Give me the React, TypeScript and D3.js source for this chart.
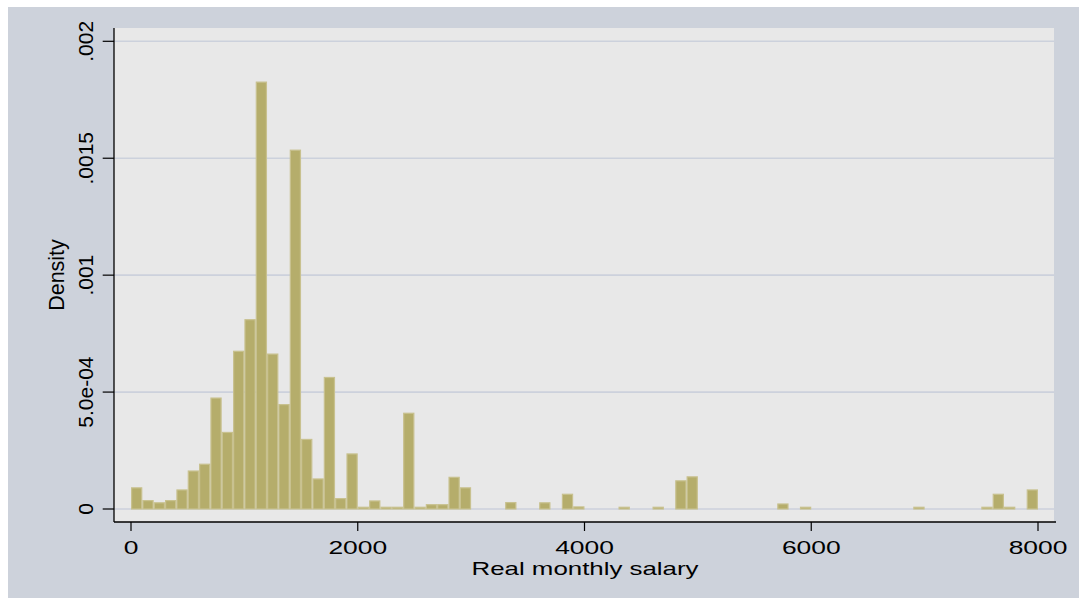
import React from "react";
import * as d3 from "d3";

// Histogram: bins of width 100 from 0 to 8000 (density per bin)
const binStart: number[] = d3.range(0, 8000, 100);
const densities: number[] = [
  0.000093, 0.0000385, 0.000029, 0.0000385, 0.000084, 0.000165, 0.000194, 0.000477, 0.00033, 0.000677,
  0.000812, 0.001828, 0.000665, 0.000449, 0.001537, 0.0003, 0.000131, 0.000565, 0.000047, 0.000238,
  0.00001, 0.000037, 0.00001, 0.00001, 0.000412, 0.00001, 0.000021, 0.000021, 0.000138, 0.000093,
  0, 0, 0, 0.00003, 0, 0, 0.000029, 0, 0.0000655, 0.0000115,
  0, 0, 0, 0.00001, 0, 0, 0.00001, 0, 0.000123, 0.00014,
  0, 0, 0, 0, 0, 0, 0, 0.000024, 0, 0.00001,
  0, 0, 0, 0, 0, 0, 0, 0, 0, 0.00001,
  0, 0, 0, 0, 0, 0.00001, 0.0000655, 0.00001, 0, 0.000084,
];
const binWidth = 100;

const xTicks: number[] = [0, 2000, 4000, 6000, 8000];
const yTicks: number[] = [0, 0.0005, 0.001, 0.0015, 0.002];
const yTickLabels: string[] = ["0", "5.0e-04", ".001", ".0015", ".002"];
const xTitle = "Real monthly salary";
const yTitle = "Density";

export default function App() {
  const W = 1079;
  const H = 598;
  const plotL = 114;
  const plotR = 1054;
  const plotT = 28;
  const plotB = 522;

  const x = d3.scaleLinear().domain([0, 8000]).range([131, 1038]);
  const y = d3.scaleLinear().domain([0, 0.002]).range([509, 41.3]);

  const font = "'Liberation Sans', Arial, Helvetica, sans-serif";
  const barFill = "#b5ad6b";
  const barStroke = "#c8c18f";
  const sw = 1.2;

  return (
    <svg
      width={W}
      height={H}
      style={{ position: "absolute", left: 0, top: 0, display: "block" }}
    >
      <rect x={0} y={0} width={W} height={H} fill="#ffffff" />
      <rect x={8} y={7} width={W - 8} height={H - 7} fill="#cdd2db" />
      <rect x={plotL} y={plotT} width={plotR - plotL} height={plotB - plotT} fill="#e8e8e8" />

      {yTicks.map((t) => (
        <line
          key={"g" + t}
          x1={plotL}
          x2={plotR}
          y1={y(t)}
          y2={y(t)}
          stroke="#ccd1dc"
          strokeWidth={1.6}
        />
      ))}

      {densities.map((d, i) => {
        if (d <= 0) return null;
        const x0 = x(binStart[i]);
        const x1 = x(binStart[i] + binWidth);
        const top = y(d);
        const base = y(0);
        return (
          <rect
            key={"b" + i}
            x={x0 + sw / 2}
            y={top + sw / 2}
            width={Math.max(0, x1 - x0 - sw)}
            height={Math.max(0.1, base - top - sw / 2)}
            fill={barFill}
            stroke={barStroke}
            strokeWidth={sw}
          />
        );
      })}

      {/* axes */}
      <line x1={plotL} x2={plotL} y1={plotT} y2={plotB} stroke="#000" strokeWidth={1.3} />
      <line x1={plotL} x2={1056} y1={plotB} y2={plotB} stroke="#000" strokeWidth={1.3} />

      {yTicks.map((t, i) => (
        <g key={"yt" + t}>
          <line x1={102.7} x2={plotL} y1={y(t)} y2={y(t)} stroke="#000" strokeWidth={1.2} />
          <text
            transform={`translate(93,${y(t)}) rotate(-90)`}
            textAnchor="middle"
            fontFamily={font}
            fontSize={21}
            fill="#000"
          >
            {yTickLabels[i]}
          </text>
        </g>
      ))}

      {xTicks.map((t) => (
        <g key={"xt" + t}>
          <line x1={x(t)} x2={x(t)} y1={plotB} y2={531} stroke="#000" strokeWidth={1.2} />
          <text
            transform={`translate(${x(t)},554.3) scale(1.39,1)`}
            textAnchor="middle"
            fontFamily={font}
            fontSize={19}
            fill="#000"
          >
            {t}
          </text>
        </g>
      ))}

      <text
        transform={`translate(${(plotL + plotR) / 2 + 1},575) scale(1.39,1)`}
        textAnchor="middle"
        fontFamily={font}
        fontSize={18.6}
        fill="#000"
      >
        {xTitle}
      </text>

      <text
        transform={`translate(64,${(plotT + plotB) / 2}) rotate(-90)`}
        textAnchor="middle"
        fontFamily={font}
        fontSize={21.5}
        fill="#000"
      >
        {yTitle}
      </text>
    </svg>
  );
}
